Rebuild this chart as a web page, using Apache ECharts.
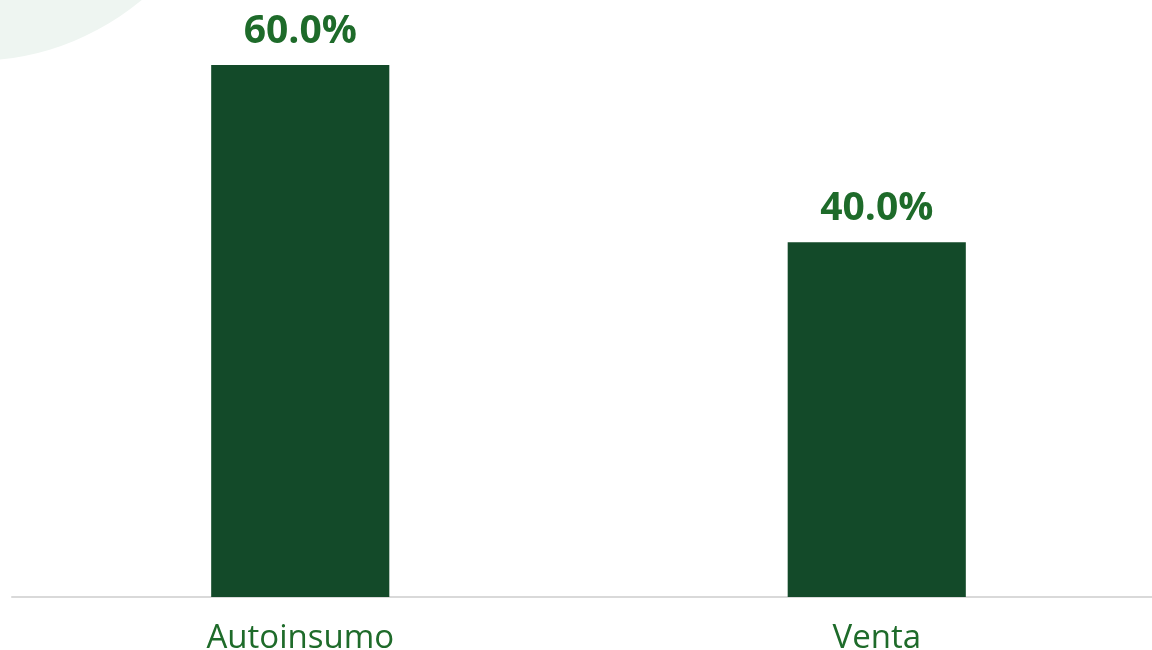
<!DOCTYPE html>
<html>
<head>
<meta charset="utf-8">
<script src="https://cdn.jsdelivr.net/npm/echarts@6/dist/echarts.min.js"></script>
<style>
  html, body { margin: 0; padding: 0; background: #fff; }
  #main { width: 1152px; height: 650px; }
</style>
</head>
<body>
<div id="main"></div>
<script>
var categories = ['Autoinsumo', 'Venta'];
var shares = [60.0, 40.0];

var chartDom = document.getElementById('main');
var myChart = echarts.init(chartDom);

var option = {
  backgroundColor: '#ffffff',
  animation: false,
  graphic: [
    {
      type: 'circle',
      z: -10,
      shape: { cx: -27, cy: -203, r: 264 },
      style: { fill: '#eef5f1' }
    }
  ],
  // grid runs a little past the right edge, like the original slide
  grid: { left: 12, width: 1153, top: 65, bottom: 53, outerBoundsMode: 'none' },
  xAxis: {
    type: 'category',
    data: categories,
    axisLine: { lineStyle: { color: '#d9d9d9', width: 2 } },
    axisTick: { show: false },
    axisLabel: {
      color: '#1e6b2a',
      fontSize: 33,
      fontFamily: 'Open Sans',
      margin: 25
    }
  },
  yAxis: {
    type: 'value',
    min: 0,
    max: 60,
    show: false,
    splitLine: { show: false }
  },
  series: [
    {
      type: 'bar',
      data: shares,
      barWidth: '30.9%',
      itemStyle: { color: '#134a29' },
      label: {
        show: true,
        position: 'top',
        distance: 14,
        color: '#1e6b2a',
        fontSize: 39,
        fontWeight: 'bold',
        fontFamily: 'Open Sans',
        formatter: function (p) { return p.value.toFixed(1) + '%'; }
      }
    }
  ]
};

myChart.setOption(option);
</script>
</body>
</html>
